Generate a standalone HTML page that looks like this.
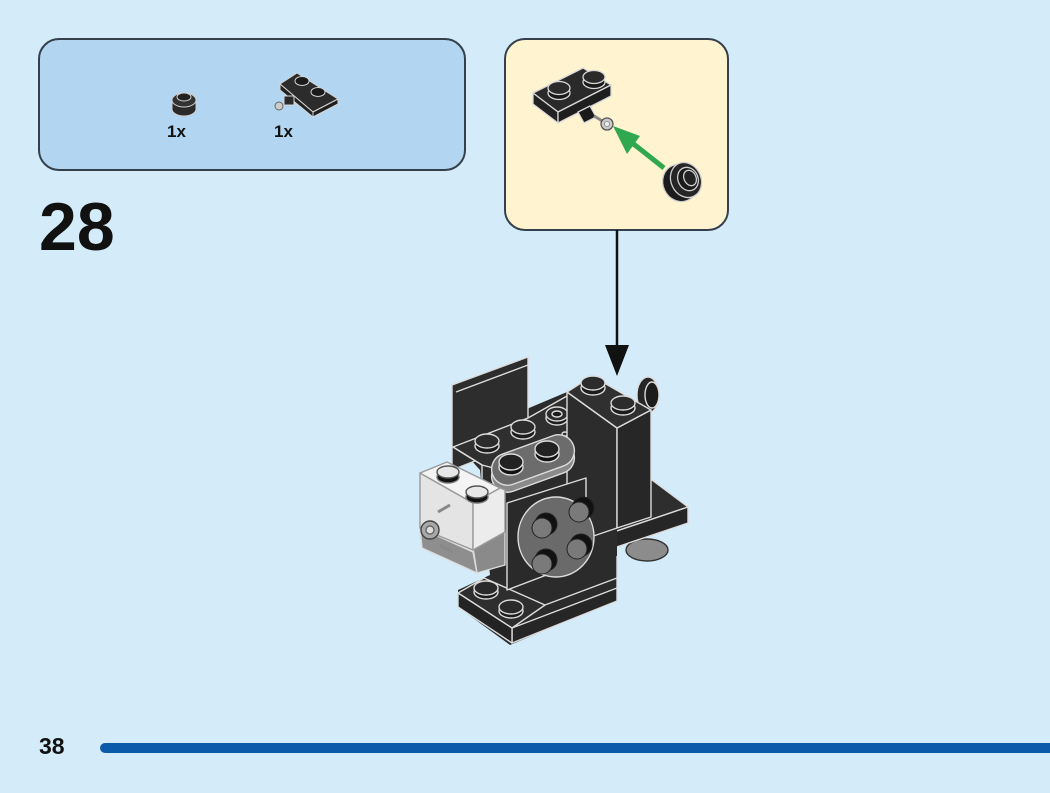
<!DOCTYPE html>
<html>
<head>
<meta charset="utf-8">
<style>
  html,body{margin:0;padding:0;}
  body{width:1050px;height:793px;background:#d4ebfa;position:relative;overflow:hidden;font-family:"Liberation Sans",sans-serif;}
  .t{position:absolute;font-weight:bold;color:#111;line-height:1;white-space:nowrap;}
  svg{position:absolute;left:0;top:0;}
</style>
</head>
<body>
<svg width="1050" height="793" viewBox="0 0 1050 793">
  <!-- parts list box -->
  <rect x="39" y="39" width="426" height="131" rx="20" ry="20" fill="#b2d6f1" stroke="#34414c" stroke-width="2"/>
  <!-- callout box -->
  <rect x="505" y="39" width="223" height="191" rx="20" ry="20" fill="#fff4cf" stroke="#34414c" stroke-width="2"/>

  <!-- parts: round plate 1x1 -->
  <g stroke="#cfcfcf" stroke-width="1">
    <ellipse cx="184" cy="109" rx="12" ry="7" fill="#2a2a2a"/>
    <rect x="172" y="100" width="24" height="9" fill="#2a2a2a" stroke="none"/>
    <line x1="172" y1="100" x2="172" y2="109"/>
    <line x1="196" y1="100" x2="196" y2="109"/>
    <ellipse cx="184" cy="100" rx="12" ry="7" fill="#333"/>
    <ellipse cx="184" cy="97" rx="7" ry="4" fill="#222"/>
  </g>
  <!-- parts: plate 1x2 with clip -->
  <g stroke="#d5d5d5" stroke-width="1" stroke-linejoin="round">
    <polygon points="280,84 297,73 338,99 313,112" fill="#2c2c2c"/>
    <polygon points="280,84 313,112 313,117 280,90" fill="#222"/>
    <polygon points="313,112 338,99 338,104 313,117" fill="#1e1e1e"/>
    <ellipse cx="302" cy="81" rx="7" ry="4.5" fill="#1a1a1a"/>
    <ellipse cx="318" cy="92" rx="7" ry="4.5" fill="#1a1a1a"/>
    <rect x="284" y="96" width="10" height="9" fill="#2a2a2a"/>
    <circle cx="279" cy="106" r="4" fill="#ccc" stroke="#666"/>
  </g>

  <!-- callout content -->
  <g stroke="#d8d8d8" stroke-width="1.3" stroke-linejoin="round">
    <polygon points="533,93 583,68 611,85 558,112" fill="#2a2a2a"/>
    <polygon points="533,93 558,112 558,123 533,104" fill="#222"/>
    <polygon points="558,112 611,85 611,96 558,123" fill="#1e1e1e"/>
    <ellipse cx="559" cy="93" rx="11" ry="6.5" fill="#1a1a1a"/>
    <ellipse cx="559" cy="88" rx="11" ry="6.5" fill="#2a2a2a"/>
    <ellipse cx="594" cy="82" rx="11" ry="6.5" fill="#1a1a1a"/>
    <ellipse cx="594" cy="77" rx="11" ry="6.5" fill="#2a2a2a"/>
    <polygon points="578,112 590,106 596,117 584,123" fill="#1a1a1a"/>
    <line x1="594" y1="116" x2="604" y2="122" stroke="#888" stroke-width="3"/>
    <circle cx="607" cy="124" r="6" fill="#c9c9c9" stroke="#555"/>
    <circle cx="607" cy="124" r="2.5" fill="#eee" stroke="#888" stroke-width="0.8"/>
  </g>
  <!-- green arrow -->
  <line x1="664" y1="168" x2="626" y2="138" stroke="#2fa84f" stroke-width="5"/>
  <polygon points="613,126 640,136 627,154" fill="#2fa84f"/>
  <!-- round plate in callout -->
  <g stroke="#cfcfcf" stroke-width="1.3">
    <ellipse cx="680" cy="183" rx="17" ry="19" fill="#1c1c1c" transform="rotate(-25 680 183)"/>
    <ellipse cx="686" cy="180" rx="15" ry="18" fill="#262626" transform="rotate(-25 686 180)"/>
    <ellipse cx="688" cy="179" rx="10" ry="12" fill="#1a1a1a" transform="rotate(-25 688 179)"/>
    <ellipse cx="690" cy="178" rx="6" ry="8" fill="#222" transform="rotate(-25 690 178)"/>
  </g>

  <!-- connector arrow -->
  <line x1="617" y1="230" x2="617" y2="352" stroke="#111" stroke-width="2.5"/>
  <polygon points="605,345 629,345 617,376" fill="#111"/>

  <!-- ============ main model ============ -->
  <g stroke="#dcdcdc" stroke-width="1.4" stroke-linejoin="round">
    <!-- gray round under base -->
    <ellipse cx="647" cy="550" rx="21" ry="11" fill="#8c8c8c" stroke="#333"/>
    <!-- right base plate -->
    <polygon points="617,470 652,480 688,507 590,540" fill="#2e2e2e"/>
    <polygon points="590,540 688,507 688,523 590,556" fill="#262626"/>
    <!-- dark mass -->
    <polygon points="453,440 567,392 617,428 617,600 510,645 458,607 458,590 490,575 480,470" fill="#2b2b2b" stroke="none"/>
    <!-- lower plate -->
    <polygon points="458,593 484,578 545,605 512,628" fill="#2e2e2e"/>
    <polygon points="512,628 617,588 617,601 512,643" fill="#262626"/>
    <polygon points="458,593 512,628 512,643 458,607" fill="#232323"/>
    <line x1="617" y1="556" x2="617" y2="588"/>
    <line x1="545" y1="605" x2="617" y2="578"/>
    <!-- lower plate studs -->
    <ellipse cx="486" cy="592" rx="12" ry="7" fill="#1c1c1c"/>
    <ellipse cx="486" cy="588" rx="12" ry="7" fill="#2a2a2a"/>
    <ellipse cx="511" cy="611" rx="12" ry="7" fill="#1c1c1c"/>
    <ellipse cx="511" cy="607" rx="12" ry="7" fill="#2a2a2a"/>

    <!-- back panel -->
    <polygon points="452,385 528,357 528,440 452,470" fill="#2d2d2d"/>
    <line x1="456" y1="392" x2="528" y2="365"/>

    <!-- middle brick top -->
    <polygon points="453,447 528,418 567,396 617,428 585,452 520,475 482,465" fill="#2f2f2f"/>
    <polyline points="453,447 482,465 482,480" fill="none"/>
    <line x1="583" y1="452" x2="583" y2="500"/>
    <!-- studs on panel base -->
    <ellipse cx="487" cy="446" rx="12" ry="7" fill="#1c1c1c"/>
    <ellipse cx="487" cy="441" rx="12" ry="7" fill="#2c2c2c"/>
    <ellipse cx="523" cy="432" rx="12" ry="7" fill="#1c1c1c"/>
    <ellipse cx="523" cy="427" rx="12" ry="7" fill="#2c2c2c"/>
    <!-- hollow studs -->
    <ellipse cx="557" cy="418" rx="11" ry="7" fill="#1c1c1c"/>
    <ellipse cx="557" cy="414" rx="11" ry="7" fill="#2c2c2c"/>
    <ellipse cx="557" cy="414" rx="5" ry="3" fill="#1a1a1a"/>
    <ellipse cx="584" cy="436" rx="11" ry="7" fill="#1c1c1c"/>
    <ellipse cx="584" cy="432" rx="11" ry="7" fill="#2c2c2c"/>
    <ellipse cx="584" cy="432" rx="5" ry="3" fill="#1a1a1a"/>
    <ellipse cx="565" cy="434" rx="3" ry="2" fill="#2c2c2c"/>

    <!-- side wheel on tall brick -->
    <ellipse cx="648" cy="395" rx="11" ry="18" fill="#262626"/>
    <ellipse cx="652" cy="395" rx="7" ry="13" fill="#1c1c1c"/>

    <!-- tall brick -->
    <polygon points="567,392 617,428 617,528 567,545" fill="#2c2c2c"/>
    <polygon points="617,428 651,410 651,517 617,528" fill="#272727"/>
    <polygon points="567,392 592,376 651,410 617,428" fill="#303030"/>
    <ellipse cx="593" cy="388" rx="12" ry="7" fill="#1c1c1c"/>
    <ellipse cx="593" cy="383" rx="12" ry="7" fill="#2c2c2c"/>
    <ellipse cx="623" cy="408" rx="12" ry="7" fill="#1c1c1c"/>
    <ellipse cx="623" cy="403" rx="12" ry="7" fill="#2c2c2c"/>

    <!-- bracket plate -->
    <polygon points="507,503 586,478 586,560 507,590" fill="#2a2a2a"/>

    <!-- gray oval plate -->
    <rect x="-43" y="-16" width="86" height="32" rx="16" ry="16" fill="#8a8a8a" transform="translate(533,467) rotate(-20)"/>
    <rect x="-43" y="-16" width="86" height="32" rx="16" ry="16" fill="#6c6c6c" transform="translate(533,460) rotate(-20)"/>
    <ellipse cx="511" cy="467" rx="12" ry="8" fill="#111"/>
    <ellipse cx="511" cy="462" rx="12" ry="8" fill="#222"/>
    <ellipse cx="547" cy="454" rx="12" ry="8" fill="#111"/>
    <ellipse cx="547" cy="449" rx="12" ry="8" fill="#222"/>

    <!-- round gray 2x2 plate -->
    <ellipse cx="556" cy="537" rx="38" ry="40" fill="#6a6a6a"/>
    <g stroke="#222" stroke-width="1">
      <circle cx="583" cy="508" r="11" fill="#111"/>
      <circle cx="579" cy="512" r="10" fill="#7a7a7a"/>
      <circle cx="546" cy="524" r="11" fill="#111"/>
      <circle cx="542" cy="528" r="10" fill="#7a7a7a"/>
      <circle cx="581" cy="545" r="11" fill="#111"/>
      <circle cx="577" cy="549" r="10" fill="#7a7a7a"/>
      <circle cx="546" cy="560" r="11" fill="#111"/>
      <circle cx="542" cy="564" r="10" fill="#7a7a7a"/>
    </g>

    <!-- transparent brick -->
    <polygon points="420,528 473,552 477,573 422,548" fill="#8e8e8e"/>
    <polygon points="473,548 505,530 505,565 477,573" fill="#8a8a8a"/>
    <polygon points="420,473 473,503 473,550 420,528" fill="#e4e4e4" stroke="#9a9a9a"/>
    <polygon points="473,503 500,488 505,490 505,532 473,550" fill="#ececec" stroke="#9a9a9a"/>
    <polygon points="420,473 447,462 500,488 473,503" fill="#f4f4f4" stroke="#9a9a9a"/>
    <circle cx="430" cy="530" r="9" fill="#a8a8a8" stroke="#444"/>
    <circle cx="430" cy="530" r="4" fill="#ddd" stroke="#666"/>
    <path d="M438,512 L450,505 M440,545 L452,552" stroke="#888" stroke-width="3"/>
    <ellipse cx="448" cy="477" rx="11" ry="6" fill="#111" stroke="#777"/>
    <ellipse cx="448" cy="472" rx="11" ry="6" fill="#e8e8e8" stroke="#555"/>
    <ellipse cx="477" cy="497" rx="11" ry="6" fill="#111" stroke="#777"/>
    <ellipse cx="477" cy="492" rx="11" ry="6" fill="#e8e8e8" stroke="#555"/>
  </g>

  <!-- bottom bar -->
  <line x1="105" y1="748" x2="1060" y2="748" stroke="#0a5ba9" stroke-width="10" stroke-linecap="round"/>
</svg>

<div class="t" style="left:167px;top:123px;font-size:17px;">1x</div>
<div class="t" style="left:274px;top:123px;font-size:17px;">1x</div>
<div class="t" style="left:39px;top:193px;font-size:68px;">28</div>
<div class="t" style="left:39px;top:735px;font-size:23px;">38</div>
</body>
</html>
